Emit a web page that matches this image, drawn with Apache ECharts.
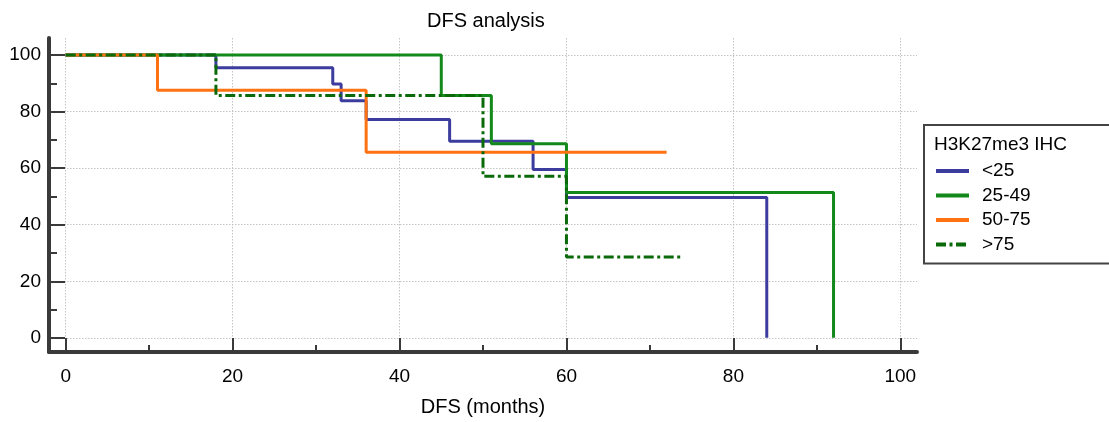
<!DOCTYPE html>
<html>
<head>
<meta charset="utf-8">
<script src="https://cdn.jsdelivr.net/npm/echarts@6/dist/echarts.min.js"></script>
<style>
html,body{margin:0;padding:0;background:#fff;}
#chart{width:1109px;height:422px;}
</style>
</head>
<body>
<div id="chart"></div>
<script>
// ---- data (Kaplan-Meier steps: [month, survival %]) ----
const groupNames = ['<25', '25-49', '50-75', '>75'];
const seriesLt25 = [[0,100],[18,95.5],[32,89.7],[33,83.8],[36,77.2],[46,69.5],[56,59.5],[60,49.6],[84,49.6],[84,0]];
const series25to49 = [[0,100],[45,85.7],[51,68.6],[60,51.4],[92,51.4],[92,0]];
const series50to75 = [[0,100],[11,87.5],[36,65.6],[72,65.6]];
const seriesGt75 = [[0,100],[18,85.7],[50,57.1],[60,28.6],[74,28.6]];
const xMajorTicks = [0,20,40,60,80,100];
const xMinorTicks = [10,30,50,70,90];
const yMajorTicks = [0,20,40,60,80,100];
const yMinorTicks = [10,30,50,70,90];
const chartTitle = 'DFS analysis';
const xAxisTitle = 'DFS (months)';
const legendTitle = 'H3K27me3 IHC';

const FONT = 'Liberation Sans, Arial, sans-serif';
const AXIS_COLOR = '#3a3a3a';
const colors = ['#3c3c9e', '#12891a', '#ff7212', '#0a6a0a'];
const lineTypes = ['solid', 'solid', 'solid', [10, 3.5, 3, 3.5]];
const dataSets = [seriesLt25, series25to49, series50to75, seriesGt75];

const chart = echarts.init(document.getElementById('chart'), null, {renderer: 'canvas'});

function majorAxis(dim, min, max, ticks, tickLen, labelMargin) {
  return {
    type: 'value', min: min, max: max, gridIndex: 0,
    position: dim === 'x' ? 'bottom' : 'left',
    axisLine: {show: true, onZero: false, lineStyle: {color: AXIS_COLOR, width: 4}},
    axisTick: {show: true, inside: true, length: tickLen, customValues: ticks,
               lineStyle: {color: AXIS_COLOR, width: 2}},
    axisLabel: {show: true, customValues: ticks, margin: labelMargin,
                color: '#000', fontSize: 19, fontFamily: FONT},
    splitLine: {show: true, lineStyle: {color: '#c4c4c4', type: [1.5, 1.5], width: 1}}
  };
}
function minorAxis(dim, min, max, ticks, tickLen) {
  return {
    type: 'value', min: min, max: max, gridIndex: 0,
    position: dim === 'x' ? 'bottom' : 'left',
    axisLine: {show: false, onZero: false},
    axisTick: {show: true, inside: true, length: tickLen, customValues: ticks,
               lineStyle: {color: AXIS_COLOR, width: 2}},
    axisLabel: {show: false},
    splitLine: {show: false}
  };
}

const xMain = majorAxis('x', -2, 102, xMajorTicks, 14, 15);
xMain.name = xAxisTitle;
xMain.nameLocation = 'middle';
xMain.nameGap = 45;
xMain.nameTextStyle = {color: '#000', fontSize: 20, fontFamily: FONT};

const option = {
  animation: false,
  backgroundColor: '#fff',
  textStyle: {fontFamily: FONT},
  title: [
    {text: chartTitle, left: 427, top: 11, padding: 0,
     textStyle: {fontSize: 20, fontWeight: 'normal', color: '#000', fontFamily: FONT}},
    {text: legendTitle, left: 934, top: 135, padding: 0,
     textStyle: {fontSize: 19, fontWeight: 'normal', color: '#000', fontFamily: FONT}}
  ],
  grid: {left: 49, right: 192, top: 38, bottom: 67, containLabel: false},
  xAxis: [xMain, minorAxis('x', -2, 102, xMinorTicks, 7)],
  yAxis: [majorAxis('y', -5, 106, yMajorTicks, 16, 8), minorAxis('y', -5, 106, yMinorTicks, 8)],
  legend: {
    orient: 'vertical', left: 924, top: 125,
    padding: [36, 260, 9, 10],
    borderColor: '#444', borderWidth: 2,
    itemWidth: 33, itemHeight: 20, itemGap: 4.5,
    itemStyle: {opacity: 0},
    lineStyle: {width: 4},
    textStyle: {fontSize: 19, color: '#000', fontFamily: FONT, lineHeight: 20, padding: [0, 0, 0, 8]},
    data: groupNames
  },
  series: groupNames.map(function (name, i) {
    return {
      name: name, type: 'line', step: 'end',
      xAxisIndex: 0, yAxisIndex: 0,
      symbol: 'none', showSymbol: false,
      color: colors[i],
      lineStyle: {color: colors[i], width: 3, type: lineTypes[i], cap: 'butt'},
      data: dataSets[i],
      z: 2 + i
    };
  })
};
chart.setOption(option);
</script>
</body>
</html>
